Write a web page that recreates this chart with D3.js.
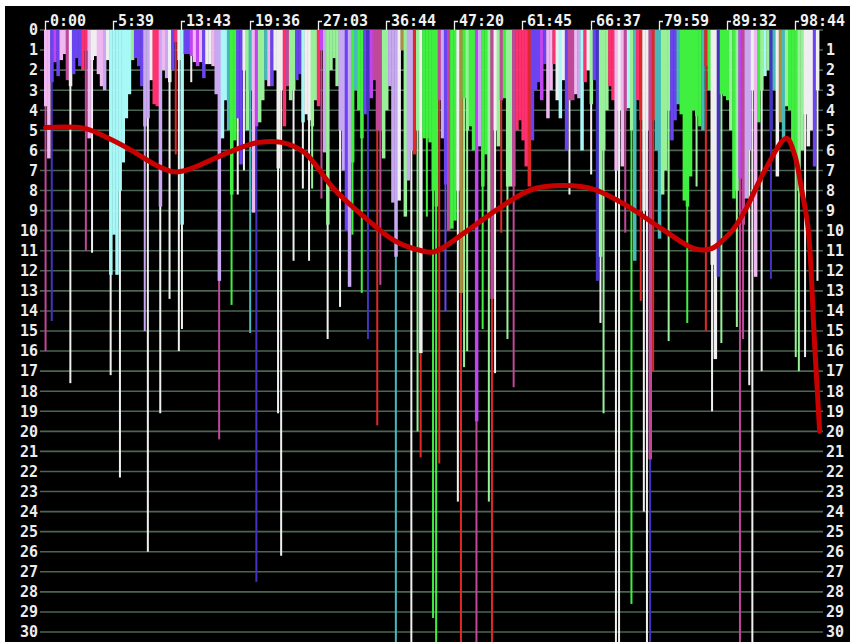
<!DOCTYPE html>
<html><head><meta charset="utf-8">
<script src="https://cdn.jsdelivr.net/npm/d3@7/dist/d3.min.js"></script>
<style>
html,body{margin:0;padding:0;background:#fff;}
svg{display:block;}
</style></head>
<body><svg id="c" width="850" height="642"></svg>
<script>
// ---- data ----
const tickLabels = ["0:00","5:39","13:43","19:36","27:03","36:44","47:20","61:45","66:37","79:59","89:32","98:44"];
const tickSlots = [0,22,44,66,88,110,132,154,176,198,220,242];
const rankTicks = d3.range(0,31);

const barColorKeys = ("PPVKVPPMWV"+"VVRRPWWPPL"+"WCCCCCCCgV"+"VVLLWRRLPL"+"WVRWCVVKPK"+
  "PVWWPLLCCT"+"GGVVWgTPKg"+"gTPVWWWRMg"+"gVVCWWggRK"+"LggggLLVLG"+
  "TGGVBKMMMg"+"gLLLWOgLLr"+"gWGGGGGMLV"+"MGGWOGgGGK"+"LGGgMWgMGg"+
  "gMRRRRrVVV"+"KVPPRWCWVM"+"MPLCRWgVBg"+"ggRRPWPMCg"+"TRrWWMrTTg"+
  "ggVVTGGGGG"+"GGTrGWWBGG"+"GgGgKMLLWP"+"GgCgBTWOTg"+"GGGggWWWVW").split("");

const barDepths = [
 3.8,6.4,2.6,1.6,2.3,1.5,1.2,2.5,2.8,2.2,
 1.4,1.8,2.0,1.0,5.4,1.5,1.3,2.2,2.8,3.0,
 1.5,12.2,10.2,12.2,8,6.6,4.4,3.2,1.5,1.4,
 1.8,2.8,4.8,4.4,2.5,3.7,3.8,8.8,2.0,2.4,
 2.6,2.0,0.6,1.5,9.7,1.2,1.2,1.3,1.6,1.8,
 1.6,2.4,1.7,1.7,1.8,3.2,12.5,5.4,3.5,5.0,
 8.2,5.5,4.4,6.7,2.0,5.0,3,9.1,4.8,4.6,
 3.5,2.5,2.8,2.8,2.0,6.9,3.0,4.8,2.8,3.5,
 3.0,2.5,2.2,4.6,4.2,4.5,4.8,3.5,3.8,1.0,
 6.1,9.7,2.0,1.4,2.8,5.0,7,10,12.8,6.6,
 3,4,5.4,4.2,4.0,3.4,2.5,5.0,5.0,6.4,
 4,2.8,8.6,11.3,8.5,1.0,9.3,7.5,6,6.2,
 5,16.1,5.4,5.4,5.6,8,8.8,3.5,5.4,7.7,
 10,9.9,9.5,8,13.1,3.4,5,4.8,6,19.5,
 5.8,7.8,6.2,9.2,13.4,5,5.8,3.5,3.4,7.8,
 7.8,7.8,5.0,4.5,5.5,6.8,7.8,5.5,3.0,2.6,
 3.5,1.7,4.4,3.0,1.7,3.5,4.4,2.5,6.0,3.5,
 3.5,3.2,3.4,6.0,2.6,2.0,3.7,2.5,12.5,11.3,
 6,4,2.8,3.5,7,4,6.8,4,3.9,5,
 11.5,3.5,4.5,9,5,21.4,4.5,6,10.4,8.2,
 7,4,5.5,4.5,3.7,4.2,8.5,8.8,7.3,4.0,
 4.3,4.8,5,1.8,3.0,11.7,16.4,12.3,3.2,3.3,
 3.5,5,8.4,8,7.4,9.7,8.4,6,3,12.3,
 4.6,3,2.3,2.0,5,3.0,7.3,4.6,5.4,3.8,
 4.0,5.8,6.5,8,6,4.2,5.8,5.0,6.8,3
];

const lineSlots  = [0,2,8,13,15,21,24,32,33,37,40,42,43,44,47,56,60,62,64,66,68,75,76,80,83,85,86,89,91,95,99,102,104,107,108,113,118,120,121,123,125,126,127,129,133,134,135,136,139,141,143,144,145,147,149,151,169,176,179,180,184,185,187,189,192,193,194,195,196,201,207,210,213,215,218,223,224,225,227,228,231,234,242,243,245,249];
const lineDepths = [16,14.5,17.6,11,11.1,17.2,22.3,15,26,19.1,13.4,6.2,16,14.9,2.6,20.4,13.7,8.2,7,15.1,27.5,19.1,26.2,11.5,7.9,11.5,7.9,8.4,15.4,13.8,10.2,13.1,15.4,19.7,12.7,30.5,30.5,20,21.3,9.3,29.3,30.5,21.6,14,23.5,30.5,16.8,16,30.5,14.9,23.5,30.5,17.1,10.1,15.4,17.8,8.2,7.2,14.6,19.1,30.5,30.5,10.1,28.6,13.5,24,30.5,30.5,17,15.5,14.6,7.8,15,19,15.6,14.8,30.5,15.4,17.7,30.5,17,12.4,16.3,17,16.3,12.5];
const lineColorKeys = ["M","B","W","M","W","W","W","L","W","W","W","r","W","W","W","M","G","W","W","T","B","W","W","W","W","W","g","M","W","W","G","G","B","r","M","T","W","g","r","G","G","G","r","V","W","r","g","g","M","G","g","r","W","r","g","M","W","W","W","g","W","W","M","G","r","W","W","B","r","g","G","g","r","W","g","g","M","M","W","W","W","B","g","g","W","W"];

const trendSlots = [0,12.6,20.3,27.7,35.2,41.6,47.1,54.5,62.3,68.7,76.1,83.5,93.2,104.2,112.6,121.3,125.5,135.2,146.1,156.8,167.4,177.1,188,198.7,209.4,214.8,219,222,226,232,239,241.6,243.9,246,248,249.7];
const trendRanks = [4.86,4.9,5.4,6.0,6.7,7.07,6.9,6.4,5.9,5.6,5.6,6.1,7.95,9.5,10.5,11.0,11.05,10.1,8.9,7.95,7.75,7.95,8.8,9.9,10.9,10.9,10.4,9.9,8.9,7.0,5.4,6.2,7.95,9.9,15.4,20];

const palette = {W:"#efefef",P:"#f0b8f0",M:"#c04898",V:"#6a44f0",B:"#4432c0",R:"#ff3070",r:"#e02828",
  C:"#a8f8f8",G:"#40f040",g:"#98f098",L:"#c8a8f0",K:"#c044f0",T:"#48b8b8",O:"#a89040"};

(function(){
const svg = d3.select("#c");
const W = 850, H = 642;
svg.append("rect").attr("width",W).attr("height",H).attr("fill","#000");
svg.append("rect").attr("x",0).attr("y",0).attr("width",W).attr("height",6).attr("fill","#fff");
svg.append("rect").attr("x",0).attr("y",0).attr("width",5).attr("height",H).attr("fill","#fff");

const x = d3.scaleBand().domain(d3.range(barDepths.length)).range([44, 819]).padding(0);
const y = d3.scaleLinear().domain([0,30]).range([30, 632]);
const bw = x.bandwidth();

// grid
svg.append("g").selectAll("line").data(rankTicks).join("line")
  .attr("x1",40).attr("x2",823).attr("y1",d=>y(d)).attr("y2",d=>y(d))
  .attr("stroke","#4a6652").attr("stroke-width",1.6);

// thin lines (below thick bars)
svg.append("g").selectAll("rect").data(lineSlots).join("rect")
  .attr("x",d=>x(d)+bw/2-1).attr("width",2)
  .attr("y",y(0)).attr("height",(d,i)=>y(lineDepths[i])-y(0))
  .attr("fill",(d,i)=>palette[lineColorKeys[i]]);

// thick bars
svg.append("g").selectAll("rect").data(barDepths).join("rect")
  .attr("x",(d,i)=>x(i)).attr("width",bw+0.4)
  .attr("y",y(0)).attr("height",d=>y(d)-y(0))
  .attr("fill",(d,i)=>palette[barColorKeys[i]]);

// trend line
const xc = i => x(0) + bw/2 + i*x.step();
const trend = d3.line().x(d=>xc(d[0])).y(d=>y(d[1])).curve(d3.curveCatmullRom.alpha(0.5));
svg.append("path").datum(trendSlots.map((s,i)=>[s,trendRanks[i]]))
  .attr("d",trend).attr("fill","none").attr("stroke","#c80000")
  .attr("stroke-width",5).attr("stroke-linecap","round").attr("stroke-linejoin","round");

// axes
const font = "'DejaVu Sans Mono', monospace";
const left = svg.append("g").attr("transform","translate(38,0)")
  .call(d3.axisLeft(y).tickValues(rankTicks).tickSize(0).tickPadding(0));
left.select(".domain").remove();
left.selectAll("text").attr("fill","#ececec").attr("font-family",font).attr("font-weight","bold").attr("font-size",15);

const right = svg.append("g").attr("transform","translate(826,0)")
  .call(d3.axisRight(y).tickValues(rankTicks.slice(1)).tickSize(0).tickPadding(0));
right.select(".domain").remove();
right.selectAll("text").attr("fill","#ececec").attr("font-family",font).attr("font-weight","bold").attr("font-size",15);

// top ticks
const topAxis = svg.append("g");
tickSlots.forEach((s,i)=>{
  const tx = Math.round(x(s)) + 1;
  topAxis.append("path").attr("d",`M${tx+0.5},30V21.5H${tx+4}`).attr("stroke","#ececec").attr("stroke-width",1.3).attr("fill","none");
  topAxis.append("text").attr("x",tx+5).attr("y",26).text(tickLabels[i])
    .attr("fill","#f0f0f0").attr("font-family",font).attr("font-weight","bold").attr("font-size",15);
});
})();
</script></body></html>
